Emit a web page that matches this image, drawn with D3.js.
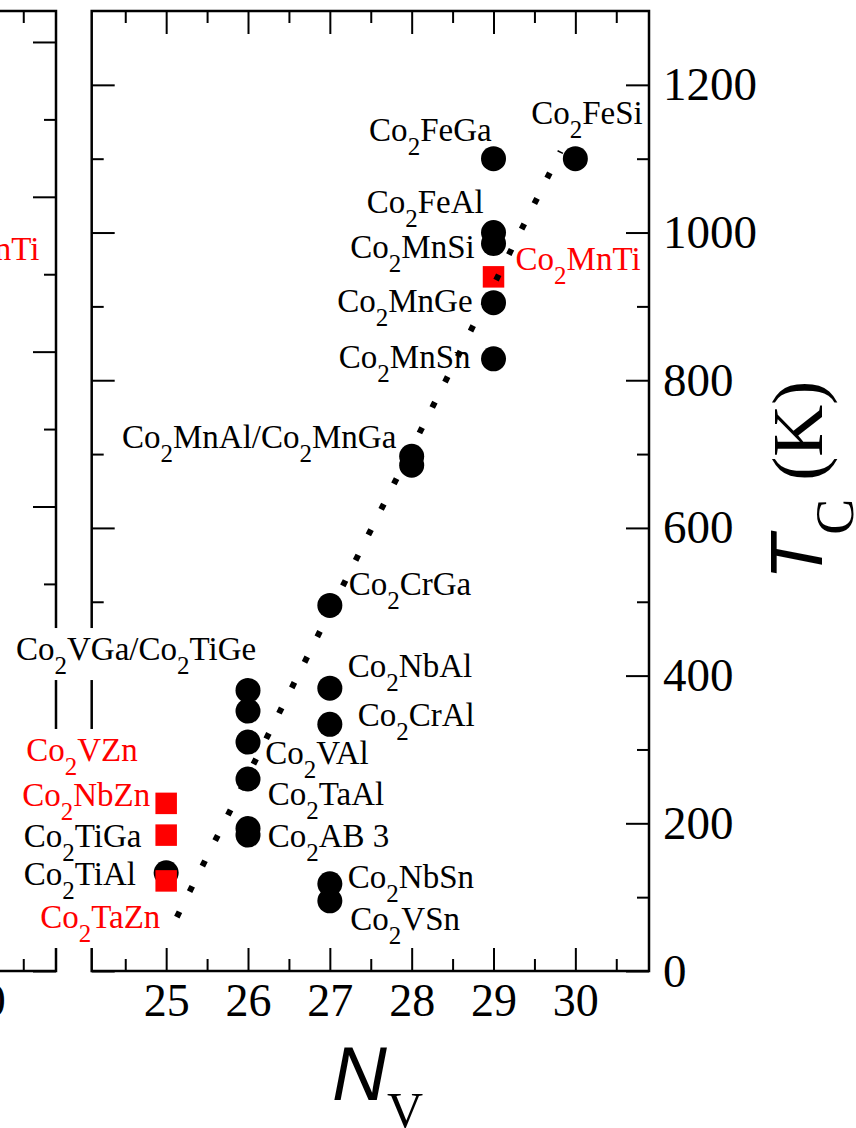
<!DOCTYPE html>
<html><head><meta charset="utf-8">
<script src="https://cdn.jsdelivr.net/npm/d3@7"></script>
<style>body{margin:0;background:#fff} svg{display:block}</style>
</head><body>
<svg id="c" width="856" height="1128"></svg>
<script>
// ---------- data ----------
const circleN  = [25, 26, 26, 26, 26, 26, 26, 27, 27, 27, 27, 27, 28, 28, 29, 29, 29, 29, 29, 30];
const circleTc = [133, 380, 352, 310, 260, 193, 184, 495, 383, 334, 118, 95, 697, 685, 1100, 1000, 985, 905, 829, 1100];
const squareN  = [25, 25, 25, 29];
const squareTc = [227, 184, 122, 940];
const fitN  = [25.13, 29.82];
const fitTc = [73, 1110];
const labelText = ["Co_2FeGa","Co_2FeSi","Co_2FeAl","Co_2MnSi","Co_2MnTi","Co_2MnGe","Co_2MnSn",
  "Co_2MnAl/Co_2MnGa","Co_2CrGa","Co_2VGa/Co_2TiGe","Co_2NbAl","Co_2CrAl","Co_2VAl","Co_2TaAl","Co_2AB 3",
  "Co_2NbSn","Co_2VSn","Co_2VZn","Co_2NbZn","Co_2TiGa","Co_2TiAl","Co_2TaZn"];
const labelN  = [27.48,29.46,27.45,27.25,29.27,27.09,27.11,24.46,27.23,23.165,27.22,27.34,26.21,26.24,26.24,
  27.22,27.25,23.29,23.24,23.26,23.26,23.46];
const labelTc = [1124,1147,1026,965.5,949.3,892.4,816.6,708,509.2,421.1,398.1,331.8,280.3,224.8,167.9,
  112,55.5,284.4,223.4,167.9,116.5,58.2];
const labelPredicted = [false,false,false,false,true,false,false,false,false,false,false,false,false,false,false,
  false,false,true,true,false,false,true];
// left (broken) panel
const leftLabelText = ["Co_2MnTi"];
const leftLabelN = [20.696];
const leftLabelTc = [918.4];
const xMajor = [25, 26, 27, 28, 29, 30];
const xMinor = [24.5, 25.5, 26.5, 27.5, 28.5, 29.5, 30.5];
const yMajor = [0, 200, 400, 600, 800, 1000, 1200];
const yMinor = [100, 300, 500, 700, 900, 1100];
const xLeftMajor = [20];
const xLeftMinor = [20.5];
const yLeftMajor = [0, 200, 400, 600, 800, 1000, 1200];
const yLeftMinor = [100, 300, 500, 700, 900, 1100];

// ---------- layout ----------
const svg = d3.select("#c");
const L = 91.7, R = 649, T = 11, B = 971;
const x = d3.scaleLinear().domain([24.09, 30.9]).range([L, R]);
const y = d3.scaleLinear().domain([0, 1300]).range([B, T]);
const LR = 56;
const xl = d3.scaleLinear().domain([14.09, 20.9]).range([LR - (R - L), LR]);
const yl = d3.scaleLinear().domain([0, 1240]).range([B, T]);
const serif = "'Liberation Serif','Times New Roman',serif";
const sans = "'Liberation Sans',Arial,sans-serif";
const MAJ = 23, MIN = 12;

function styleAxis(g){
  g.select(".domain").remove();
  g.selectAll(".tick line").attr("stroke","#000").attr("stroke-width",2);
  g.selectAll("text").attr("font-family",serif).attr("fill","#000");
}
function addAxis(gen, tx, ty){
  const g = svg.append("g").attr("transform",`translate(${tx},${ty})`).call(gen);
  styleAxis(g); return g;
}
// right panel axes
addAxis(d3.axisBottom(x).tickValues(xMajor).tickSize(-MAJ).tickSizeOuter(0).tickPadding(12).tickFormat(d3.format("d")),0,B)
  .selectAll("text").attr("font-size",46);
addAxis(d3.axisBottom(x).tickValues(xMinor).tickSize(-MIN).tickFormat(""),0,B);
addAxis(d3.axisTop(x).tickValues(xMajor).tickSize(-MAJ).tickFormat(""),0,T);
addAxis(d3.axisTop(x).tickValues(xMinor).tickSize(-MIN).tickFormat(""),0,T);
addAxis(d3.axisRight(y).tickValues(yMajor).tickSize(-MAJ).tickPadding(14).tickFormat(d3.format("d")),R,0)
  .selectAll("text").attr("font-size",47);
addAxis(d3.axisRight(y).tickValues(yMinor).tickSize(-MIN).tickFormat(""),R,0);
addAxis(d3.axisLeft(y).tickValues(yMajor).tickSize(-MAJ).tickFormat(""),L,0);
addAxis(d3.axisLeft(y).tickValues(yMinor).tickSize(-MIN).tickFormat(""),L,0);
svg.append("rect").attr("x",L).attr("y",T).attr("width",R-L).attr("height",B-T)
  .attr("fill","none").attr("stroke","#000").attr("stroke-width",2.5);

// left panel axes
addAxis(d3.axisBottom(xl).tickValues(xLeftMajor).tickSize(-MAJ).tickPadding(12).tickFormat(d3.format("d")),0,B)
  .selectAll("text").attr("font-size",46);
addAxis(d3.axisBottom(xl).tickValues(xLeftMinor).tickSize(-MIN).tickFormat(""),0,B);
addAxis(d3.axisTop(xl).tickValues(xLeftMajor).tickSize(-MAJ).tickFormat(""),0,T);
addAxis(d3.axisTop(xl).tickValues(xLeftMinor).tickSize(-MIN).tickFormat(""),0,T);
addAxis(d3.axisRight(yl).tickValues(yLeftMajor).tickSize(-MAJ).tickFormat(""),LR,0);
addAxis(d3.axisRight(yl).tickValues(yLeftMinor).tickSize(-MIN).tickFormat(""),LR,0);
svg.append("path").attr("d",`M-10,${T}H${LR}V${B}H-10`).attr("fill","none").attr("stroke","#000").attr("stroke-width",2.5);

// ---------- labels ----------
function chem(sel, str, size, sub, shift){
  const parts = str.split("_2");
  parts.forEach((p,i)=>{
    if(i>0){
      sel.append("tspan").attr("font-size",sub).attr("dy",shift).text("2");
      sel.append("tspan").attr("font-size",size).attr("dy",-shift).text(p);
    } else sel.append("tspan").attr("font-size",size).text(p);
  });
}
const bgLayer = svg.append("g");
const labLayer = svg.append("g");
labelText.forEach((t,i)=>{
  const tx = labLayer.append("text").attr("x",x(labelN[i])).attr("y",y(labelTc[i]))
    .attr("font-family",serif).attr("fill",labelPredicted[i]?"#ff0000":"#000");
  chem(tx,t,33,25,14);
  const bb = tx.node().getBBox();
  if(bb.x < L){
    bgLayer.append("rect").attr("x",bb.x-2).attr("y",bb.y-3).attr("width",bb.width+4).attr("height",bb.height+4).attr("fill","#fff");
  }
});
leftLabelText.forEach((t,i)=>{
  const tx = labLayer.append("text").attr("x",xl(leftLabelN[i])).attr("y",yl(leftLabelTc[i]))
    .attr("text-anchor","end").attr("font-family",serif).attr("fill","#ff0000");
  chem(tx,t,33,25,14);
});

// ---------- markers ----------
svg.append("g").selectAll("circle").data(circleN).join("circle")
  .attr("cx",(d)=>x(d)).attr("cy",(d,i)=>y(circleTc[i])).attr("r",12.5).attr("fill","#000");
const S = 21.5;
svg.append("g").selectAll("rect").data(squareN).join("rect")
  .attr("x",(d)=>x(d)-S/2).attr("y",(d,i)=>y(squareTc[i])-S/2).attr("width",S).attr("height",S).attr("fill","#ff0000");
svg.append("path").datum(fitN.map((n,i)=>[n,fitTc[i]]))
  .attr("d",d3.line().x(d=>x(d[0])).y(d=>y(d[1])))
  .attr("stroke","#000").attr("stroke-width",6).attr("stroke-dasharray","6 22.5").attr("fill","none");

// ---------- axis titles ----------
const xt = svg.append("text").attr("x",332).attr("y",1100).attr("fill","#000");
xt.append("tspan").attr("font-family",sans).attr("font-style","italic").attr("font-size",76).text("N");
xt.append("tspan").attr("font-family",serif).attr("font-size",50).attr("dy",27).text("V");

const yt = svg.append("text").attr("transform","translate(822,580) rotate(-90)").attr("fill","#000");
yt.append("tspan").attr("font-family",sans).attr("font-style","italic").attr("font-size",74).text("T");
yt.append("tspan").attr("font-family",serif).attr("font-size",54).attr("dy",31).text("C");
yt.append("tspan").attr("font-family",serif).attr("font-size",72).attr("dy",-31).text("\u00a0(K)");
</script>
</body></html>
